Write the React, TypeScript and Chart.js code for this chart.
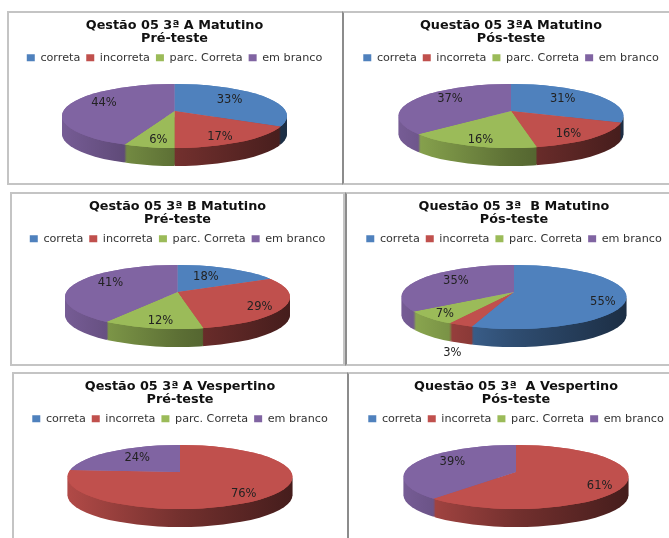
import React, { useEffect, useRef } from "react";
import { Chart, registerables } from "chart.js";

Chart.register(...registerables);

const categories = ["correta", "incorreta", "parc. Correta", "em branco"];
const colors = ["#4f81bd", "#c0504d", "#9bbb59", "#8064a2"];

const valuesAPre = [33, 17, 6, 44];
const valuesAPos = [31, 16, 16, 37];
const valuesBPre = [18, 29, 12, 41];
const valuesBPos = [55, 3, 7, 35];
const valuesVPre = [0, 76, 0, 24];
const valuesVPos = [0, 61, 0, 39];

const titleAPre = ["Qestão 05 3ª A Matutino", "Pré-teste"];
const titleAPos = ["Questão 05 3ªA Matutino", "Pós-teste"];
const titleBPre = ["Qestão 05 3ª B Matutino", "Pré-teste"];
const titleBPos = ["Questão 05 3ª  B Matutino", "Pós-teste"];
const titleVPre = ["Qestão 05 3ª A Vespertino", "Pré-teste"];
const titleVPos = ["Questão 05 3ª  A Vespertino", "Pós-teste"];

const FONT = "'DejaVu Sans', sans-serif";
// Rim ellipse sits a little below the apex of the slices, as in a perspective view.
const PIE = {
  rx: 112.5, rayBack: 34, rayFront: 30, labelBack: 27, labelFront: 37,
  rimDrop: 5, rimRy: 32, depth: 18, centerY: 100, over: 1.5,
};

type Panel = {
  left: number; top: number; width: number; height: number;
  title: string[]; values: number[]; nudges: number[][];
  border: React.CSSProperties;
};

const thin = "2px solid #c4c4c4";
const thick = "2px solid #8c8c8c";

const panels: Panel[] = [
  { left: 7, top: 11, width: 335, height: 174, title: titleAPre, values: valuesAPre,
    nudges: [[-5, -1], [10, 4], [-3, 4], [-2, -4]],
    border: { borderLeft: thin, borderTop: thin, borderBottom: thin } },
  { left: 342, top: 11, width: 338, height: 174, title: titleAPos, values: valuesAPos,
    nudges: [[-6, -1], [13, 3], [-9, 4], [3, -4]],
    border: { borderLeft: thick, borderTop: thin, borderBottom: thin } },
  { left: 10, top: 192, width: 335, height: 174, title: titleBPre, values: valuesBPre,
    nudges: [[-9, 1], [20, 3], [-4, 4], [0, -4]],
    border: { borderLeft: thin, borderTop: thin, borderBottom: thin, borderRight: thin } },
  { left: 345, top: 192, width: 338, height: 174, title: titleBPos, values: valuesBPos,
    nudges: [[20, 6], [-34, 37], [-23, 3], [4, -2]],
    border: { borderLeft: thick, borderTop: thin, borderBottom: thin } },
  { left: 12, top: 372, width: 336, height: 174, title: titleVPre, values: valuesVPre,
    nudges: [[0, 0], [16, 3], [0, 0], [5, 0]],
    border: { borderLeft: thin, borderTop: thin } },
  { left: 347, top: 372, width: 338, height: 174, title: titleVPos, values: valuesVPos,
    nudges: [[0, 0], [18, 5], [0, 0], [2, -4]],
    border: { borderLeft: thick, borderTop: thin } },
];

function shade(hex: string, k: number) {
  const n = parseInt(hex.slice(1), 16);
  const c = [(n >> 16) & 255, (n >> 8) & 255, n & 255].map((v) => Math.round(v * k));
  return `rgb(${c[0]},${c[1]},${c[2]})`;
}

const pie3d = {
  id: "pie3d",
  beforeDatasetDraw(chart: any, args: any, opts: any) {
    const { ctx, width, height } = chart;
    const arcs = args.meta.data as any[];
    if (!arcs.length) return false;
    const a0 = arcs[0];
    const R = a0.outerRadius;
    const ax = a0.x;
    const ay = a0.y;
    const cy = opts.centerY;
    const k = opts.over;
    const sx = (opts.rx * k) / R;

    // Slices are drawn oversized around the apex and clipped by the rim ellipse.
    const paint = (dy: number, ry: number, y0: number, y1: number, fill: (i: number) => any) => {
      ctx.save();
      ctx.beginPath();
      ctx.ellipse(ax, cy + opts.rimDrop + dy, opts.rx, opts.rimRy, 0, 0, Math.PI * 2);
      ctx.clip();
      ctx.beginPath();
      ctx.rect(0, y0, width, y1 - y0);
      ctx.clip();
      ctx.translate(ax, cy + dy);
      ctx.scale(sx, (ry * k) / R);
      ctx.translate(-ax, -ay);
      arcs.forEach((arc, i) => {
        if (arc.circumference <= 0) return;
        const saved = arc.options;
        const o = Object.create(saved);
        o.backgroundColor = fill(i);
        arc.options = o;
        arc.draw(ctx);
        arc.options = saved;
      });
      ctx.restore();
    };

    // Side wall: a stack of darker copies of the rim, with a left-to-right shading.
    const grads = colors.map((c) => {
      const g = ctx.createLinearGradient(ax - R / k, 0, ax + R / k, 0);
      g.addColorStop(0, shade(c, 0.92));
      g.addColorStop(0.5, shade(c, 0.6));
      g.addColorStop(1, shade(c, 0.36));
      return g;
    });
    for (let d = opts.depth; d >= 1; d--) {
      paint(d, opts.rayFront, cy + opts.rimDrop + d, height, (i) => grads[i]);
    }
    // Top face, painted twice to close the seams between slices.
    for (let n = 0; n < 2; n++) {
      paint(0, opts.rayBack, 0, cy, (i) => colors[i]);
      paint(0, opts.rayFront, cy, height, (i) => colors[i]);
    }

    // Value labels
    ctx.save();
    ctx.font = `11.5px ${FONT}`;
    ctx.fillStyle = "#222";
    ctx.textAlign = "center";
    ctx.textBaseline = "middle";
    arcs.forEach((arc, i) => {
      const v = chart.data.datasets[0].data[i];
      if (!v) return;
      const mid = (arc.startAngle + arc.endAngle) / 2 + Math.PI / 2;
      const s = Math.sin(mid);
      const c = Math.cos(mid);
      const nudge = opts.nudges[i];
      const x = ax + s * opts.rx * 0.62 + nudge[0];
      const y = cy - c * (c > 0 ? opts.labelBack : opts.labelFront) * 0.7 + nudge[1];
      ctx.fillText(`${v}%`, x, y);
    });
    ctx.restore();
    return false;
  },
};

function PieCard({ panel }: { panel: Panel }) {
  const ref = useRef<HTMLCanvasElement>(null);
  useEffect(() => {
    const chart = new Chart(ref.current as HTMLCanvasElement, {
      type: "pie",
      data: {
        labels: categories,
        datasets: [{ data: panel.values, backgroundColor: colors, borderWidth: 0 }],
      },
      options: {
        animation: false,
        responsive: false,
        layout: { padding: { bottom: 10 } },
        plugins: {
          tooltip: { enabled: false },
          title: {
            display: true,
            text: panel.title,
            color: "#111",
            font: { family: FONT, size: 12.8, weight: "bold", lineHeight: 1.02 },
            padding: { top: 8.5, bottom: 0.5 },
          },
          legend: {
            position: "top",
            onClick: () => {},
            labels: {
              boxWidth: 8,
              boxHeight: 7,
              padding: 6,
              color: "#333",
              font: { family: FONT, size: 11.2 },
            },
          },
          pie3d: { ...PIE, nudges: panel.nudges },
        },
      } as any,
      plugins: [pie3d],
    });
    return () => chart.destroy();
  }, [panel]);
  return (
    <div style={{ position: "absolute", left: panel.left, top: panel.top, width: panel.width, height: panel.height, background: "#fff" }}>
      <canvas ref={ref} width={panel.width} height={panel.height} style={{ display: "block", filter: "blur(0.4px)" }} />
      <div style={{ position: "absolute", inset: 0, boxSizing: "border-box", pointerEvents: "none", ...panel.border }} />
    </div>
  );
}

export default function App() {
  return (
    <div style={{ position: "absolute", left: 0, top: 0, width: 669, height: 538, overflow: "hidden", background: "#fff" }}>
      {panels.map((p, i) => (
        <PieCard key={i} panel={p} />
      ))}
    </div>
  );
}
